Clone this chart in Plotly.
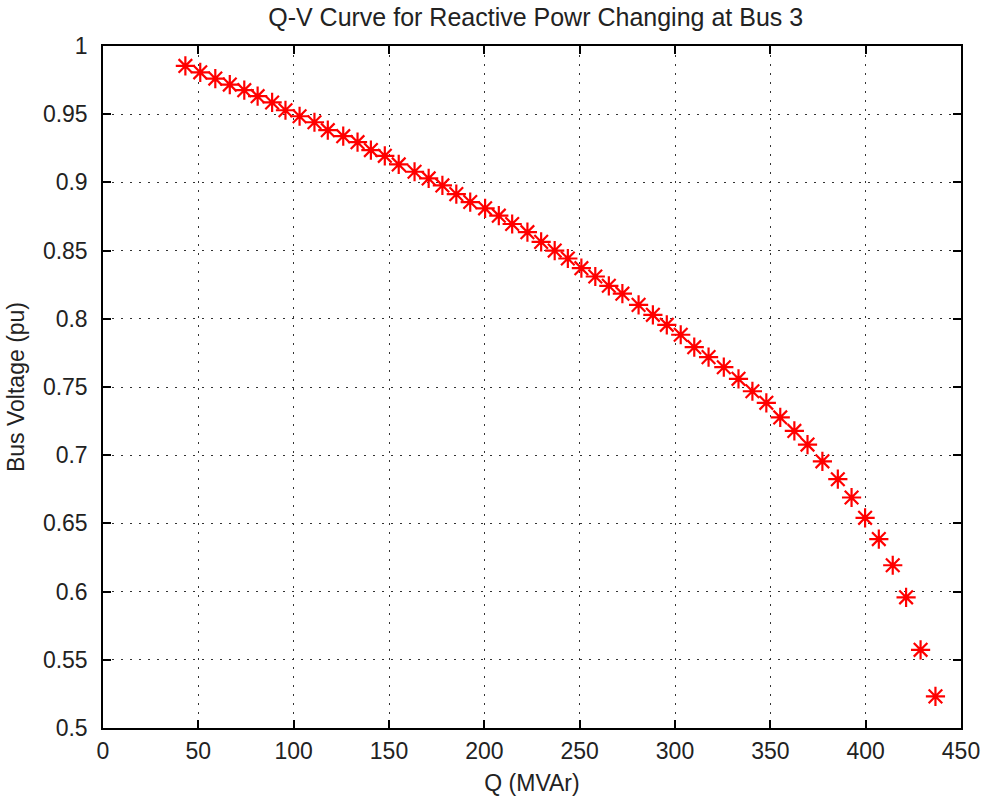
import plotly.graph_objects as go

# Reactive power Q (MVAr) and bus voltage (pu)
q_mvar = [43.2, 51.0, 58.9, 66.5, 74.1, 81.1, 88.7, 95.7, 103.1, 110.9,
          117.9, 126.0, 133.5, 140.5, 147.8, 155.1, 163.4, 170.8, 178.0, 185.3,
          192.6, 200.4, 207.6, 214.6, 222.6, 229.8, 236.9, 243.8, 250.9, 258.2,
          265.3, 272.4, 280.9, 288.4, 295.7, 303.0, 310.1, 317.6, 325.6, 333.3,
          340.6, 347.9, 355.2, 362.6, 369.5, 377.3, 385.4, 392.6, 399.7, 406.9,
          414.2, 421.2, 428.8, 436.6]
v_pu = [0.9854, 0.9807, 0.9761, 0.9717, 0.9676, 0.9632, 0.9586, 0.9529, 0.9485, 0.9441,
        0.9383, 0.9339, 0.9295, 0.9237, 0.9195, 0.9132, 0.9078, 0.9029, 0.8978, 0.8914,
        0.8856, 0.8810, 0.8756, 0.8695, 0.8635, 0.8564, 0.8500, 0.8442, 0.8371, 0.8310,
        0.8242, 0.8184, 0.8102, 0.8029, 0.7956, 0.7883, 0.7792, 0.7719, 0.7645, 0.7560,
        0.7469, 0.7384, 0.7277, 0.7178, 0.7078, 0.6955, 0.6824, 0.6690, 0.6541, 0.6385,
        0.6193, 0.5958, 0.5573, 0.5232]

x_ticks = [0, 50, 100, 150, 200, 250, 300, 350, 400, 450]
x_tick_text = ["0", "50", "100", "150", "200", "250", "300", "350", "400", "450"]
y_ticks = [0.5, 0.55, 0.6, 0.65, 0.7, 0.75, 0.8, 0.85, 0.9, 0.95, 1.0]
y_tick_text = ["0.5", "0.55", "0.6", "0.65", "0.7", "0.75", "0.8", "0.85", "0.9", "0.95", "1"]

title_text = "Q-V Curve for Reactive Powr Changing at Bus 3"
x_label = "Q (MVAr)"
y_label = "Bus Voltage (pu)"

FONT = "Liberation Sans, Arial, Helvetica, sans-serif"

fig = go.Figure()
fig.add_trace(go.Scatter(
    x=q_mvar, y=v_pu, mode="markers",
    marker=dict(symbol="asterisk-open", size=16, color="red",
                line=dict(color="#e80000", width=2.2)),
    showlegend=False,
))

axis_common = dict(
    showline=True, linecolor="black", linewidth=1.5, mirror="ticks",
    ticks="inside", ticklen=8, tickwidth=1.5, tickcolor="black",
    showgrid=True, gridcolor="#333333", gridwidth=1, griddash="2px,7px",
    zeroline=False,
    tickfont=dict(family=FONT, size=23, color="#222222"),
    title_font=dict(family=FONT, size=23, color="#222222"),
)

fig.update_xaxes(range=[0, 450], tickvals=x_ticks, ticktext=x_tick_text,
                 title_text=x_label, title_standoff=12, ticklabelstandoff=2,
                 **axis_common)
fig.update_yaxes(range=[0.5, 1.0], tickvals=y_ticks, ticktext=y_tick_text,
                 title_text=y_label, title_standoff=12, ticklabelstandoff=9,
                 **axis_common)

fig.update_layout(
    width=992, height=804,
    margin=dict(l=103, r=22, t=46, b=75),
    paper_bgcolor="white", plot_bgcolor="white",
    title=dict(text=title_text, x=0.54, xanchor="center", y=0.979, yanchor="middle",
               font=dict(family=FONT, size=25, color="#222222")),
)

fig.write_html("out.html")
